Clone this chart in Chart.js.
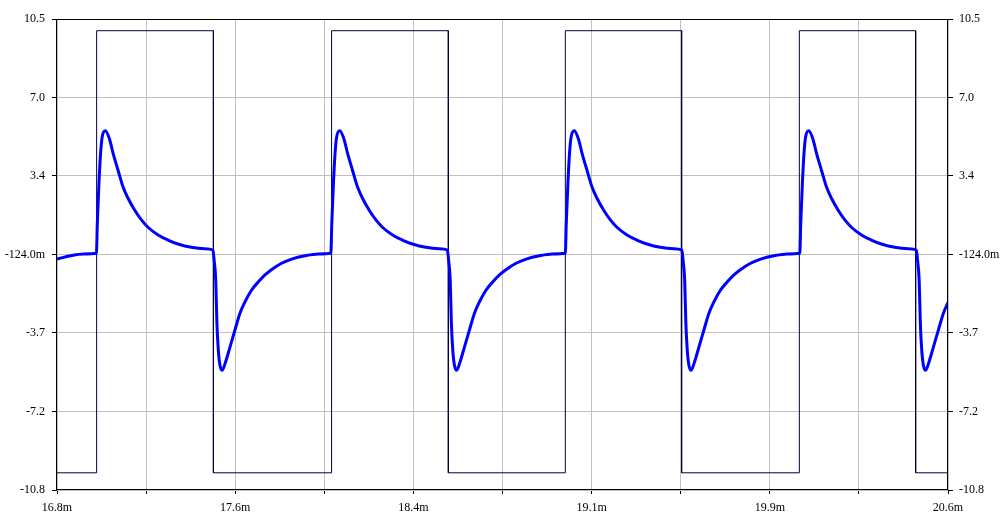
<!DOCTYPE html>
<html>
<head>
<meta charset="utf-8">
<script src="https://cdn.jsdelivr.net/npm/chart.js@4.4.1/dist/chart.umd.min.js"></script>
<style>
  body { margin: 0; background: #fff; }
</style>
</head>
<body>
<canvas id="scope" width="1004" height="521"></canvas>
<script>
// time axis in ms, grid every 0.38 ms
const xTickVals = [16.84, 17.22, 17.60, 17.98, 18.36, 18.74, 19.12, 19.50, 19.88, 20.26, 20.64];
const xTickLabels = ['16.8m', '', '17.6m', '', '18.4m', '', '19.1m', '', '19.9m', '', '20.6m'];

const yTickVals = [-10.778, -7.226, -3.674, -0.124, 3.428, 6.98, 10.53];
const yTickLabels = ['-10.8', '-7.2', '-3.7', '-124.0m', '3.4', '7.0', '10.5'];

// square drive
const sqT = [16.84, 17.009, 17.009, 17.507, 17.507, 18.011, 18.011, 18.509, 18.509,
             19.008, 19.008, 19.504, 19.504, 20.006, 20.006, 20.502, 20.502, 20.64];
const sqV = [-10, -10, 10, 10, -10, -10, 10, 10, -10,
             -10, 10, 10, -10, -10, 10, 10, -10, -10];

// response trace
const blueT = [
  16.84, 16.898, 16.954,
  17.008, 17.012, 17.019, 17.026, 17.033, 17.046, 17.065, 17.079, 17.100, 17.121, 17.143, 17.171, 17.200, 17.228, 17.271, 17.313, 17.356, 17.413, 17.470, 17.505,
  17.510, 17.517, 17.522, 17.528, 17.535, 17.545, 17.557, 17.578, 17.599, 17.620, 17.642, 17.670, 17.699, 17.727, 17.756, 17.798, 17.841, 17.898, 17.954,
  18.008, 18.012, 18.019, 18.026, 18.033, 18.046, 18.065, 18.079, 18.100, 18.121, 18.143, 18.171, 18.200, 18.228, 18.271, 18.313, 18.356, 18.413, 18.470, 18.505,
  18.510, 18.517, 18.522, 18.528, 18.535, 18.545, 18.557, 18.578, 18.599, 18.620, 18.642, 18.670, 18.699, 18.727, 18.756, 18.798, 18.841, 18.898, 18.954,
  19.008, 19.012, 19.019, 19.026, 19.033, 19.046, 19.065, 19.079, 19.100, 19.121, 19.143, 19.171, 19.200, 19.228, 19.271, 19.313, 19.356, 19.413, 19.470, 19.505,
  19.510, 19.517, 19.522, 19.528, 19.535, 19.545, 19.557, 19.578, 19.599, 19.620, 19.642, 19.670, 19.699, 19.727, 19.756, 19.798, 19.841, 19.898, 19.954,
  20.008, 20.012, 20.019, 20.026, 20.033, 20.046, 20.065, 20.079, 20.100, 20.121, 20.143, 20.171, 20.200, 20.228, 20.271, 20.313, 20.356, 20.413, 20.470, 20.505,
  20.510, 20.517, 20.522, 20.528, 20.535, 20.545, 20.557, 20.578, 20.599, 20.620, 20.642
];
const blueV = [
  -0.33, -0.18, -0.10,
  -0.07, 1.30, 3.11, 4.47, 5.21, 5.47, 5.06, 4.46, 3.70, 2.95, 2.42, 1.89, 1.44, 1.11, 0.76, 0.53, 0.35, 0.20, 0.14, 0.08,
  -0.37, -1.28, -3.23, -4.45, -5.13, -5.36, -5.05, -4.30, -3.54, -2.79, -2.26, -1.73, -1.36, -1.05, -0.80, -0.52, -0.33, -0.18, -0.10,
  -0.07, 1.30, 3.11, 4.47, 5.21, 5.47, 5.06, 4.46, 3.70, 2.95, 2.42, 1.89, 1.44, 1.11, 0.76, 0.53, 0.35, 0.20, 0.14, 0.08,
  -0.37, -1.28, -3.23, -4.45, -5.13, -5.36, -5.05, -4.30, -3.54, -2.79, -2.26, -1.73, -1.36, -1.05, -0.80, -0.52, -0.33, -0.18, -0.10,
  -0.07, 1.30, 3.11, 4.47, 5.21, 5.47, 5.06, 4.46, 3.70, 2.95, 2.42, 1.89, 1.44, 1.11, 0.76, 0.53, 0.35, 0.20, 0.14, 0.08,
  -0.37, -1.28, -3.23, -4.45, -5.13, -5.36, -5.05, -4.30, -3.54, -2.79, -2.26, -1.73, -1.36, -1.05, -0.80, -0.52, -0.33, -0.18, -0.10,
  -0.07, 1.30, 3.11, 4.47, 5.21, 5.47, 5.06, 4.46, 3.70, 2.95, 2.42, 1.89, 1.44, 1.11, 0.76, 0.53, 0.35, 0.20, 0.14, 0.08,
  -0.37, -1.28, -3.23, -4.45, -5.13, -5.36, -5.05, -4.30, -3.54, -2.79, -2.26
];

Chart.defaults.font.family = 'Liberation Serif';
Chart.defaults.font.size = 12;
Chart.defaults.color = '#000';

// thin black box round the plot
const frame = {
  id: 'frame',
  afterDraw(chart) {
    const a = chart.chartArea;
    const c = chart.ctx;
    c.save();
    c.strokeStyle = '#000';
    c.lineWidth = 1;
    c.strokeRect(Math.round(a.left) - 0.5, Math.round(a.top) + 0.5,
                 Math.round(a.right - a.left), Math.round(a.bottom - a.top) - 1);
    c.restore();
  }
};

const yTicksFromList = (scale) => { scale.ticks = yTickVals.map(v => ({ value: v })); };

new Chart(document.getElementById('scope'), {
  type: 'line',
  data: {
    datasets: [{
      data: blueT.map((t, i) => ({ x: t, y: blueV[i] })),
      borderColor: '#0000ff',
      borderWidth: 3,
      pointRadius: 0,
      cubicInterpolationMode: 'monotone',
      yAxisID: 'y'
    }, {
      data: sqT.map((t, i) => ({ x: t, y: sqV[i] })),
      borderColor: '#000040',
      borderWidth: 1,
      pointRadius: 0,
      tension: 0,
      yAxisID: 'y'
    }]
  },
  options: {
    responsive: false,
    animation: false,
    devicePixelRatio: 1,
    layout: { padding: { top: 19, left: 0, right: 0, bottom: 0 } },
    plugins: {
      legend: { display: false },
      tooltip: { enabled: false }
    },
    scales: {
      x: {
        type: 'linear',
        min: 16.84,
        max: 20.64,
        afterBuildTicks: (scale) => { scale.ticks = xTickVals.map(v => ({ value: v })); },
        afterFit: (scale) => { scale.height = 31; },
        grid: { color: '#c0c0c0', tickColor: '#000', tickLength: 4 },
        border: { display: false },
        ticks: {
          autoSkip: false,
          maxRotation: 0,
          padding: 7,
          callback: (v, i) => xTickLabels[i]
        }
      },
      y: {
        type: 'linear',
        position: 'left',
        min: -10.778,
        max: 10.53,
        afterBuildTicks: yTicksFromList,
        afterFit: (scale) => { scale.width = 57; },
        grid: { color: '#c0c0c0', tickColor: '#000', tickLength: 5 },
        border: { display: false },
        ticks: { padding: 7, callback: (v, i) => yTickLabels[i] }
      },
      y2: {
        type: 'linear',
        position: 'right',
        min: -10.778,
        max: 10.53,
        afterBuildTicks: yTicksFromList,
        afterFit: (scale) => { scale.width = 56; },
        grid: { drawOnChartArea: false, tickColor: '#000', tickLength: 5 },
        border: { display: false },
        ticks: { padding: 6, callback: (v, i) => yTickLabels[i] }
      }
    }
  },
  plugins: [frame]
});
</script>
</body>
</html>
